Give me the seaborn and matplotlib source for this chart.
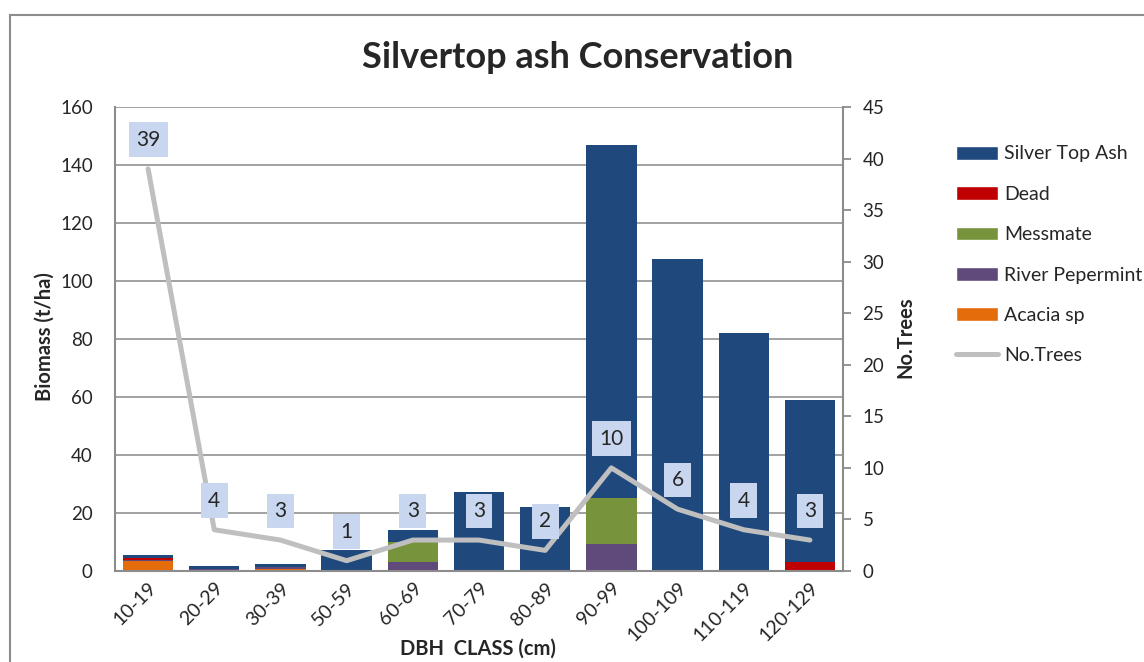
import numpy as np
import pandas as pd
import matplotlib.pyplot as plt
import seaborn as sns

sns.set_style("white")
plt.rcParams['font.family'] = ['Lato', 'DejaVu Sans']

# data (t/ha per DBH class)
classes = ['10-19', '20-29', '30-39', '50-59', '60-69', '70-79', '80-89',
           '90-99', '100-109', '110-119', '120-129']
acacia = [3.4, 0.0, 0.7, 0, 0, 0, 0, 0, 0, 0, 0]
river_pep = [0.5, 0.6, 0.6, 0, 3.2, 0, 0, 9.4, 0, 0, 0]
messmate = [0, 0, 0, 0, 6.9, 0, 0, 15.8, 0, 0, 0]
dead = [0.7, 0, 0, 0, 0, 0, 0, 0, 0, 0, 3.0]
silver = [1.0, 1.1, 1.2, 7.2, 4.0, 27.1, 22.0, 121.7, 107.6, 82.0, 56.0]
no_trees = [39, 4, 3, 1, 3, 3, 2, 10, 6, 4, 3]

df = pd.DataFrame({'cls': classes, 'Acacia sp': acacia, 'River Pepermint': river_pep,
                   'Messmate': messmate, 'Dead': dead, 'Silver Top Ash': silver})
stack = ['Acacia sp', 'River Pepermint', 'Messmate', 'Dead', 'Silver Top Ash']
colors = {'Acacia sp': '#e46c0a', 'River Pepermint': '#604a7b', 'Messmate': '#77933c',
          'Dead': '#c00000', 'Silver Top Ash': '#1f497d'}

fig = plt.figure(figsize=(11.44, 6.62), dpi=100)
ax = fig.add_axes([115/1144, 1-571/662, 728/1144, 464/662])

# stacked bars: draw cumulative totals from the top layer down
cum = df[stack].cumsum(axis=1)
for name in reversed(stack):
    sns.barplot(x=df['cls'], y=cum[name], color=colors[name], width=0.76,
                saturation=1, linewidth=0, edgecolor='none', ax=ax, zorder=2)

ax.set_ylim(0, 160)
ax.set_yticks(range(0, 161, 20))
ax.yaxis.grid(True, color='#9a9a9a', lw=1.3)
ax.set_axisbelow(True)
ax.set_xlabel('')
ax.set_ylabel('')
for s in ['top', 'right']:
    ax.spines[s].set_visible(False)
for s in ['left', 'bottom']:
    ax.spines[s].set_color('#8c8c8c')
    ax.spines[s].set_linewidth(1.5)
ax.tick_params(axis='y', labelsize=13.5, length=0, pad=16)
ax.tick_params(axis='x', labelsize=14, length=0, pad=6)
plt.setp(ax.get_xticklabels(), rotation=45, ha='right', rotation_mode='anchor')

# number of trees on the secondary axis
ax2 = ax.twinx()
x = np.arange(len(classes))
sns.lineplot(x=x, y=no_trees, color='#bfbfbf', lw=3.6, ax=ax2, zorder=3)
ax2.set_ylim(0, 45)
ax2.set_yticks(range(0, 46, 5))
ax.set_xlim(-0.5, len(classes) - 0.5)
for s in ['top', 'left', 'bottom']:
    ax2.spines[s].set_visible(False)
ax2.spines['right'].set_color('#8c8c8c')
ax2.spines['right'].set_linewidth(1.5)
ax2.tick_params(axis='y', labelsize=13.5, length=6, width=1.3, color='#8c8c8c', pad=8)
ax2.set_ylabel('')

for xi, n in zip(x, no_trees):
    ax2.annotate(str(n), (xi, n), xytext=(0, 21), textcoords='offset points',
                 ha='center', va='center', fontsize=15, zorder=4,
                 bbox=dict(boxstyle='square,pad=0.35', fc='#c8d7ef', ec='none'))

# titles and axis labels
fig.text(0.505, 1-58/662, 'Silvertop ash Conservation', ha='center', va='center',
         fontsize=26, fontweight='bold')
fig.text(45/1144, 1-337/662, 'Biomass (t/ha)', rotation=90, ha='center', va='center',
         fontsize=14.5, fontweight='bold')
fig.text(905/1144, 1-337/662, 'No.Trees', rotation=90, ha='center', va='center',
         fontsize=14.5, fontweight='bold')
fig.text(478/1144, 1-649/662, 'DBH  CLASS (cm)', ha='center', va='center',
         fontsize=14.5, fontweight='bold')

# legend
handles = [plt.Rectangle((0, 0), 1, 1, fc=colors[n]) for n in reversed(stack)]
handles.append(plt.Line2D([0], [0], color='#bfbfbf', lw=3.6))
labels = list(reversed(stack)) + ['No.Trees']
fig.legend(handles, labels, loc='upper left', bbox_to_anchor=(938/1144, 1-128/662),
           frameon=False, fontsize=14, handlelength=2.2, handleheight=0.7,
           labelspacing=1.2, handletextpad=0.3)

# chart area border
fig.patches.append(plt.Rectangle((10/1144, -0.1), 1.2, 1.1 - 15/662, transform=fig.transFigure,
                                 fill=False, ec='#8c8c8c', lw=1.5))

fig.savefig('out.png', dpi=100)
